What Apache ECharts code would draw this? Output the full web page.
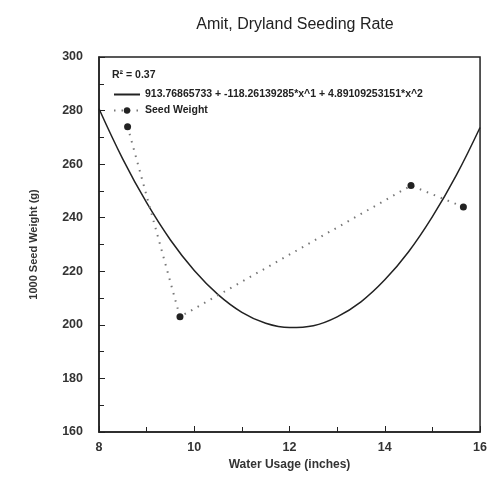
<!DOCTYPE html>
<html>
<head>
<meta charset="utf-8">
<script src="https://cdn.jsdelivr.net/npm/echarts@6/dist/echarts.min.js"></script>
<style>
html, body { margin: 0; padding: 0; background: #fff; }
#chart { width: 490px; height: 483px; }
</style>
</head>
<body>
<div id="chart"></div>
<script>
// seed weight observations
const waterUsage = [8.6, 9.7, 14.55, 15.65]
const seedWeight = [274, 203, 252, 244]

// fitted quadratic
const fitX = [8, 8.5, 9, 9.5, 10, 10.5, 11, 11.5, 12, 12.5, 13, 13.5, 14, 14.5, 15, 15.5, 16]
const fitY = [280.7, 261.9, 245.6, 231.7, 220.3, 211.3, 204.7, 200.6, 199.0, 199.7, 203.0, 208.6, 216.8, 227.3, 240.4, 255.8, 273.7]

const fitName = '913.76865733 + -118.26139285*x^1 + 4.89109253151*x^2'
const obsName = 'Seed Weight'

const font = 'Liberation Sans'
const chart = echarts.init(document.getElementById('chart'))

chart.setOption({
	backgroundColor: '#fff',
	animation: false,
	title: {
		text: 'Amit, Dryland Seeding Rate',
		left: 290, top: 12,
		textAlign: 'center',
		textStyle: { fontFamily: font, fontSize: 16, fontWeight: 'normal', color: '#222' }
	},
	grid: {
		left: 99, right: 9, top: 57, bottom: 51,
		show: true, borderColor: '#222', borderWidth: 1.5
	},
	legend: {
		orient: 'vertical',
		left: 108, top: 84,
		itemWidth: 26, itemHeight: 8, itemGap: 5,
		textStyle: { fontFamily: font, fontSize: 10.5, fontWeight: 'bold', color: '#222' },
		data: [
			{ name: fitName, itemStyle: { opacity: 0 } },
			obsName
		]
	},
	graphic: [{
		type: 'text', left: 112, top: 70,
		style: { text: 'R² = 0.37', font: 'bold 10.5px Liberation Sans', fill: '#222' }
	}],
	xAxis: {
		type: 'value', min: 8, max: 16, interval: 2,
		name: 'Water Usage (inches)', nameLocation: 'middle', nameGap: 27,
		nameTextStyle: { fontFamily: font, fontSize: 12, fontWeight: 'bold', color: '#333' },
		axisLine: { lineStyle: { color: '#222', width: 1.5 } },
		axisTick: { inside: true, length: 6, lineStyle: { color: '#222' } },
		minorTick: { show: true, splitNumber: 2, length: 5, lineStyle: { color: '#222' } },
		axisLabel: { fontFamily: font, fontSize: 12.5, fontWeight: 'bold', color: '#333', margin: 9 },
		splitLine: { show: false }
	},
	yAxis: {
		type: 'value', min: 160, max: 300, interval: 20,
		name: '1000 Seed Weight (g)', nameLocation: 'middle', nameGap: 60,
		nameTextStyle: { fontFamily: font, fontSize: 11, fontWeight: 'bold', color: '#333' },
		axisLine: { lineStyle: { color: '#222', width: 1.5 } },
		axisTick: { inside: true, length: 6, lineStyle: { color: '#222' } },
		minorTick: { show: true, splitNumber: 2, length: 5, lineStyle: { color: '#222' } },
		axisLabel: { fontFamily: font, fontSize: 12.5, fontWeight: 'bold', color: '#333', margin: 16 },
		splitLine: { show: false }
	},
	series: [
		{
			name: fitName,
			type: 'line',
			smooth: 0.4,
			showSymbol: false,
			symbol: 'none',
			data: fitX.map((x, i) => [x, fitY[i]]),
			lineStyle: { color: '#222', width: 1.5 },
			itemStyle: { color: '#222' }
		},
		{
			name: obsName,
			type: 'line',
			data: waterUsage.map((x, i) => [x, seedWeight[i]]),
			symbol: 'circle', symbolSize: 7,
			lineStyle: { color: '#777', width: 2, type: [1.5, 6] },
			itemStyle: { color: '#222' }
		}
	]
})
</script>
</body>
</html>
